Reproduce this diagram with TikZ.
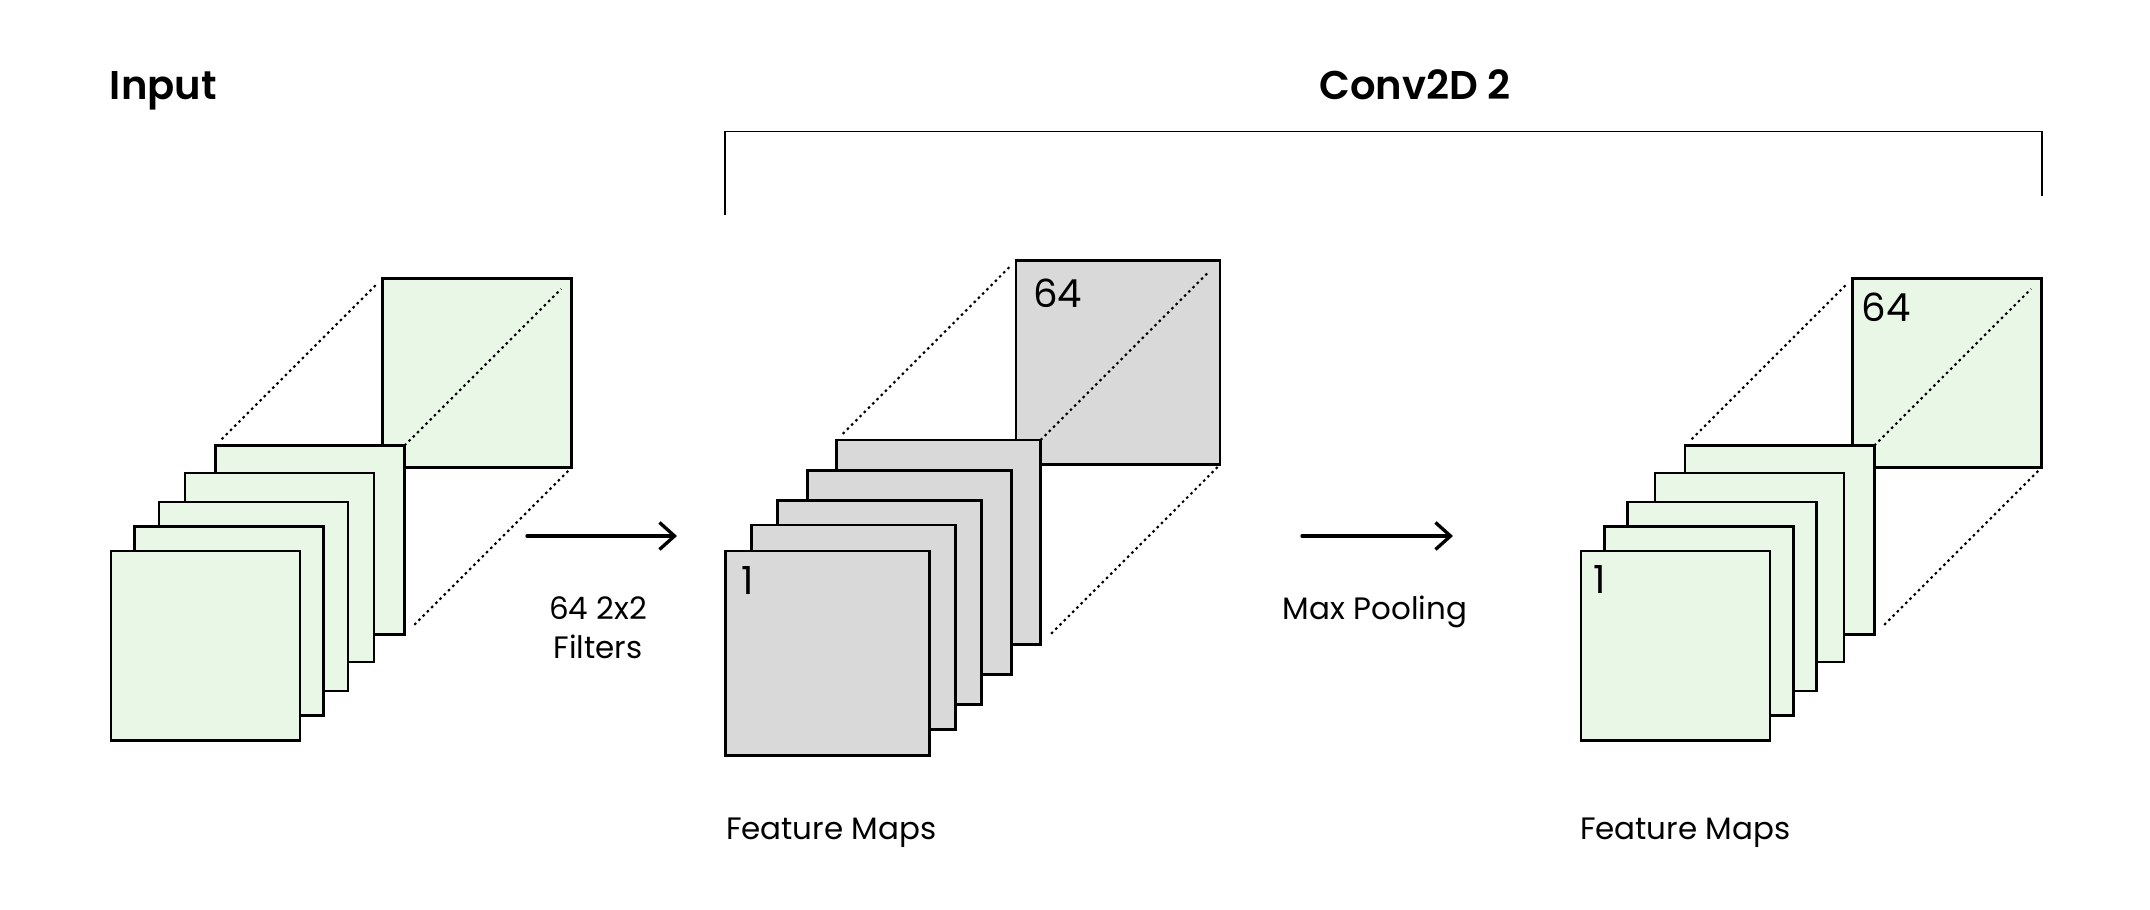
\documentclass[tikz,border=0pt]{standalone}
\usepackage{fontspec}
\setmainfont{Poppins}[BoldFont={Poppins SemiBold}]
\usetikzlibrary{arrows.meta,positioning,calc}
\definecolor{mapgreen}{HTML}{E9F7E7}
\definecolor{mapgray}{HTML}{D9D9D9}

\begin{document}
\begin{tikzpicture}[
  x=0.01cm, y=-0.01cm,
  every node/.style={inner sep=0pt, outer sep=0pt},
  map/.style={draw, line width=0.7pt, anchor=north west, minimum size=1.89cm},
  inmap/.style={map, fill=mapgreen},
  convmap/.style={map, fill=mapgray, minimum size=2.04cm},
  poolmap/.style={map, fill=mapgreen},
  guide/.style={line width=0.6pt, dash pattern=on 0.7pt off 1.0pt},
  arr/.style={-{Straight Barb[length=0.15cm, width=0.27cm]}, line width=0.95pt, line cap=round},
  title/.style={font=\fontsize{11.4}{13}\selectfont\bfseries},
  caption/.style={font=\fontsize{8.8}{11.1}\selectfont, align=center},
  idx/.style={font=\fontsize{11}{13}\selectfont, anchor=north west},
]
\useasboundingbox (0,0) rectangle (2150,910);

%% Titles
\node[title, anchor=base west] (tin) at (110,100) {Input};
\node[title, anchor=base] (tconv) at (1415,100) {Conv2D 2};

%% Bracket over the conv block
\coordinate (brL) at (725,215);
\coordinate (brR) at (2041.7,196);
\draw[line width=0.5pt] (brL) -- ++(0,-83.4) -| (brR);

%% Input stack
\node[inmap] (inbig) at (382.6,278.4) {};
\node[inmap] (in5) at (215.3,445.6) {};
\draw[guide, shorten >=0.08cm, shorten <=0.09cm] (in5.north west) -- (inbig.north west);
\draw[guide, shorten >=0.15cm] (in5.north east) -- (inbig.north east);
\draw[guide, shorten >=0.03cm, shorten <=0.14cm] (in5.south east) -- (inbig.south east);
\node[inmap] (in4) at (185.1,473.1) {};
\node[inmap] (in3) at (159.1,501.9) {};
\node[inmap] (in2) at (134.4,526.5) {};
\node[inmap] (in1) at (111.1,551.2) {};

%% Conv feature maps
\node[convmap] (fmbig) at (1016,260.5) {};
\node[idx] (fm64) at ([xshift=0.17cm, yshift=-0.18cm]fmbig.north west) {64};
\node[convmap] (fm5) at (836.4,440.2) {};
\draw[guide, shorten >=0.08cm, shorten <=0.09cm] (fm5.north west) -- (fmbig.north west);
\draw[guide, shorten >=0.16cm] (fm5.north east) -- (fmbig.north east);
\draw[guide, shorten >=0.03cm, shorten <=0.15cm] (fm5.south east) -- (fmbig.south east);
\node[convmap] (fm4) at (807.6,470.3) {};
\node[convmap] (fm3) at (777.5,500.5) {};
\node[convmap] (fm2) at (751.4,525.2) {};
\node[convmap] (fm1) at (725.4,551.2) {};
\node[idx] (fm1n) at ([xshift=0.16cm, yshift=-0.15cm]fm1.north west) {1};

%% Pooled feature maps
\node[poolmap] (plbig) at (1852.5,278.4) {};
\node[idx] (pl64) at ([xshift=0.09cm, yshift=-0.15cm]plbig.north west) {64};
\node[poolmap] (pl5) at (1685.2,445.6) {};
\draw[guide, shorten >=0.08cm, shorten <=0.09cm] (pl5.north west) -- (plbig.north west);
\draw[guide, shorten >=0.15cm] (pl5.north east) -- (plbig.north east);
\draw[guide, shorten >=0.03cm, shorten <=0.14cm] (pl5.south east) -- (plbig.south east);
\node[poolmap] (pl4) at (1655,473.1) {};
\node[poolmap] (pl3) at (1627.6,501.9) {};
\node[poolmap] (pl2) at (1604.3,526.5) {};
\node[poolmap] (pl1) at (1581,551.2) {};
\node[idx] (pl1n) at ([xshift=0.12cm, yshift=-0.14cm]pl1.north west) {1};

%% Arrows and captions
\coordinate (a1s) at (527,536);
\coordinate (a1e) at (677,536);
\coordinate (a2s) at (1302,536);
\coordinate (a2e) at (1453,536);
\draw[arr] (a1s) -- (a1e);
\draw[arr] (a2s) -- (a2e);
\node[caption, anchor=north] (cfilt) at (598,597) {64 2x2\\Filters};
\node[caption, anchor=base] (cpool) at (1375,620) {Max Pooling};
\node[caption, anchor=base west] (cfm1) at (726,840) {Feature Maps};
\node[caption, anchor=base west] (cfm2) at (1580,840) {Feature Maps};

\end{tikzpicture}
\end{document}
